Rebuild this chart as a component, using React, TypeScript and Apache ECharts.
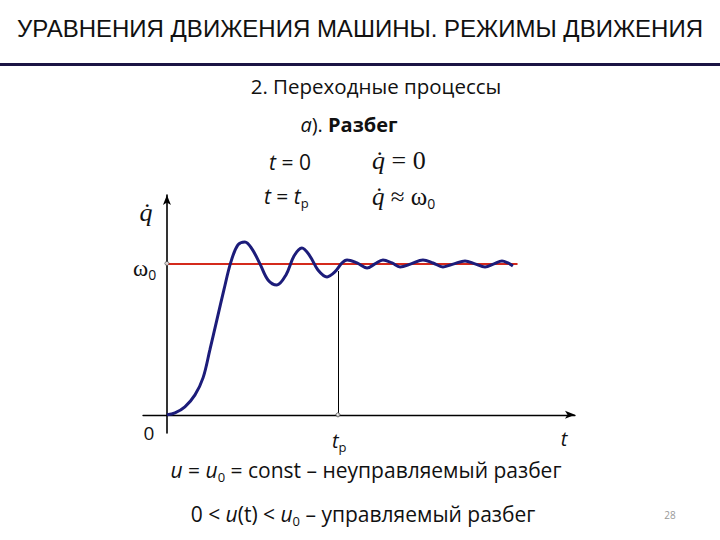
import React, { useEffect, useRef } from "react";
import * as echarts from "echarts";

// Speed curve q̇(t) during run-up (t in units of t_p, q̇ in units of ω0)
const curveT = [0, 0.047, 0.105, 0.164, 0.211, 0.251, 0.292, 0.333, 0.374, 0.415, 0.456, 0.497, 0.544, 0.591, 0.643, 0.696, 0.743, 0.789, 0.836, 0.883, 0.936, 0.982, 1.023, 1.053, 1.111, 1.170, 1.216, 1.263, 1.316, 1.363, 1.427, 1.497, 1.556, 1.614, 1.678, 1.743, 1.801, 1.860, 1.912, 1.959, 1.994, 2.023];
const curveQ = [0, 0.013, 0.053, 0.132, 0.244, 0.429, 0.627, 0.825, 1.01, 1.122, 1.142, 1.096, 0.997, 0.891, 0.858, 0.924, 1.049, 1.102, 1.049, 0.957, 0.911, 0.944, 1.003, 1.023, 1.003, 0.970, 0.997, 1.023, 1.003, 0.977, 0.997, 1.023, 1.003, 0.977, 0.997, 1.016, 0.997, 0.977, 0.997, 1.016, 1.003, 0.983];
const omega0 = 1;
const tp = 1;
const tpCurveValue = 0.95;
const omegaLineEnd = 2.05;

const sans = "'Open Sans', 'Noto Sans', sans-serif";
const serif = "'Liberation Serif', 'DejaVu Serif', serif";

export default function App() {
  const ref = useRef<HTMLDivElement>(null);
  useEffect(() => {
    if (!ref.current) return;
    const chart = echarts.init(ref.current, undefined, { renderer: "svg" });
    const sub = { fontSize: 13, verticalAlign: "bottom", lineHeight: 13, fontFamily: sans };
    const it = (size: number, lh: number, fam = sans) => ({ fontStyle: "italic", fontSize: size, fontFamily: fam, lineHeight: lh });
    const option: any = {
      animation: false,
      backgroundColor: "#fff",
      grid: { left: 143, right: 145, top: 195, bottom: 107 },
      xAxis: {
        type: "value", min: -0.14, max: 2.386,
        axisLine: { show: true, onZero: true, symbol: ["none", "arrow"], symbolSize: [6, 10], lineStyle: { color: "#000", width: 1.3 } },
        axisTick: { show: false }, axisLabel: { show: false }, splitLine: { show: false },
      },
      yAxis: {
        type: "value", min: -0.12, max: 1.452,
        axisLine: { show: true, onZero: true, symbol: ["none", "arrow"], symbolSize: [6, 10], lineStyle: { color: "#000", width: 1.6 } },
        axisTick: { show: false }, axisLabel: { show: false }, splitLine: { show: false },
      },
      series: [
        {
          type: "line",
          data: curveT.map((t, i) => [t, curveQ[i]]),
          smooth: 0.35,
          showSymbol: false,
          lineStyle: { color: "#1c1c7a", width: 3 },
          z: 5,
          markLine: {
            silent: true,
            symbol: "none",
            label: { show: false },
            data: [
              [{ coord: [0, omega0], lineStyle: { color: "#d42a1c", width: 2, type: "solid" } }, { coord: [omegaLineEnd, omega0] }],
              [{ coord: [tp, 0], lineStyle: { color: "#000", width: 1, type: "solid" } }, { coord: [tp, tpCurveValue] }],
            ],
          },
        },
        {
          type: "scatter",
          data: [[0, omega0], [tp, 0]],
          symbolSize: 4,
          itemStyle: { color: "#fff", borderColor: "#444", borderWidth: 1 },
          z: 6,
        },
      ],
      graphic: [
        { type: "text", x: 360, y: 28, style: { text: "УРАВНЕНИЯ ДВИЖЕНИЯ МАШИНЫ. РЕЖИМЫ ДВИЖЕНИЯ", fontSize: 24, fontFamily: "'Liberation Sans Narrow', 'Arial Narrow', sans-serif", fill: "#111", align: "center", verticalAlign: "middle" } },
        { type: "rect", shape: { x: 0, y: 63, width: 720, height: 3 }, style: { fill: "#1b1444" } },
        { type: "text", x: 376, y: 86, style: { text: "2. Переходные процессы", fontSize: 20.5, fontFamily: sans, fill: "#111", align: "center", verticalAlign: "middle" } },
        { type: "text", x: 349, y: 124, style: { text: "{i|а}). {b|Разбег}", fontSize: 20, fontFamily: sans, fill: "#111", align: "center", verticalAlign: "middle", rich: { i: it(20, 24), b: { fontWeight: "bold", fontSize: 20, fontFamily: sans } } } },
        { type: "text", x: 290, y: 162, style: { text: "{i|t} = 0", fontSize: 21, fontFamily: sans, fill: "#111", align: "center", verticalAlign: "middle", rich: { i: it(21, 26) } } },
        { type: "text", x: 264, y: 196, style: { text: "{i|t} = {i|t}{s|p}", fontSize: 21, fontFamily: sans, fill: "#111", align: "left", verticalAlign: "middle", lineHeight: 26, rich: { i: it(21, 26), s: sub } } },
        { type: "text", x: 372, y: 160, style: { text: "{i|q̇} = 0", fontSize: 26, fontFamily: serif, fill: "#111", align: "left", verticalAlign: "middle", rich: { i: it(26, 30, serif) } } },
        { type: "text", x: 372, y: 196, style: { text: "{i|q̇} ≈ ω{s|0}", fontSize: 25, fontFamily: serif, fill: "#111", align: "left", verticalAlign: "middle", lineHeight: 28, rich: { i: it(25, 28, serif), s: { ...sub, fontSize: 14, lineHeight: 14 } } } },
        { type: "text", x: 146, y: 212, style: { text: "q̇", fontSize: 26, fontStyle: "italic", fontFamily: serif, fill: "#111", align: "center", verticalAlign: "middle" } },
        { type: "text", x: 133, y: 268, style: { text: "ω{s|0}", fontSize: 23, fontFamily: serif, fill: "#111", align: "left", verticalAlign: "middle", lineHeight: 26, rich: { s: { ...sub, fontSize: 14, lineHeight: 14 } } } },
        { type: "text", x: 149, y: 433, style: { text: "0", fontSize: 19, fontFamily: sans, fill: "#111", align: "center", verticalAlign: "middle" } },
        { type: "text", x: 332, y: 440, style: { text: "{i|t}{s|p}", fontSize: 20, fontFamily: sans, fill: "#111", align: "left", verticalAlign: "middle", lineHeight: 26, rich: { i: it(20, 26), s: sub } } },
        { type: "text", x: 564, y: 438, style: { text: "t", fontSize: 20, fontStyle: "italic", fontFamily: sans, fill: "#111", align: "center", verticalAlign: "middle" } },
        { type: "text", x: 366, y: 470, style: { text: "{i|u} = {i|u}{s|0} = const – неуправляемый разбег", fontSize: 21, fontFamily: sans, fill: "#111", align: "center", verticalAlign: "middle", lineHeight: 26, rich: { i: it(21, 26), s: sub } } },
        { type: "text", x: 363, y: 514, style: { text: "0 < {i|u}(t) < {i|u}{s|0} – управляемый разбег", fontSize: 21, fontFamily: sans, fill: "#111", align: "center", verticalAlign: "middle", lineHeight: 26, rich: { i: it(21, 26), s: sub } } },
        { type: "text", x: 670, y: 515, style: { text: "28", fontSize: 10, fontFamily: sans, fill: "#999", align: "center", verticalAlign: "middle" } },
      ],
    };
    chart.setOption(option);
    return () => chart.dispose();
  }, []);
  return <div ref={ref} style={{ position: "fixed", left: 0, top: 0, width: 720, height: 540 }} />;
}
